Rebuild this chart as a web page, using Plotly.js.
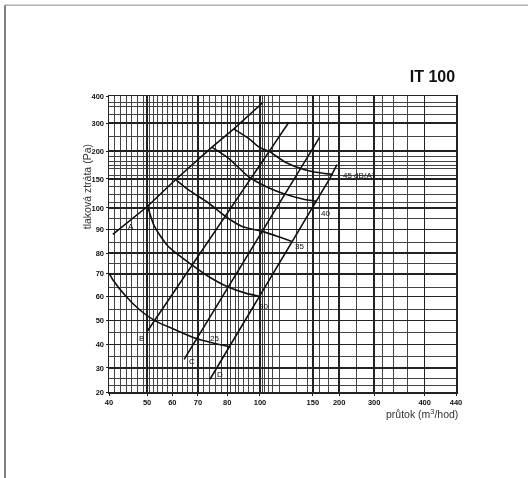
<!DOCTYPE html>
<html>
<head>
<meta charset="utf-8">
<script src="https://cdn.plot.ly/plotly-3.0.1.min.js"></script>
<style>
html,body{margin:0;padding:0;background:#fff;}
#chart{width:528px;height:478px;}
#chart svg{filter:grayscale(1);}
</style>
</head>
<body>
<div id="chart"></div>
<script>
// ---- tick labels (axis values) ----
const xTicks = [40, 50, 60, 70, 80, 100, 150, 200, 300, 400, 440];
const yTicks = [20, 30, 40, 50, 60, 70, 80, 90, 100, 150, 200, 300, 400];

// ---- system curves A-D (flow m3/h, pressure Pa) ----
const A_x = [41, 50.2, 61.3, 74.8, 84.2, 102.2];
const A_y = [88, 103, 149, 214, 280, 374];
const B_x = [50.2, 52.9, 59.3, 70.7, 82.1, 94, 108.9, 127];
const B_y = [45.8, 50, 60, 80, 100, 150, 200, 301];
const C_x = [64.6, 68.1, 73.3, 78.3, 93.2, 115.4, 132.2, 148.4, 162.8];
const C_y = [33.7, 40, 50, 60, 80, 100, 150, 200, 248.8];
const D_x = [74.1, 76.4, 82.2, 90.9, 99.7, 124, 149.4, 181.8, 196];
const D_y = [25.3, 30, 40, 50, 60, 80, 100, 150, 175.5];

// ---- noise curves dB(A) ----
const n25_x = [40, 41, 44.5, 48, 53, 60.9, 69.4, 74.7, 81.5];
const n25_y = [70.3, 67.4, 60, 54.5, 50, 46.3, 42.5, 40.8, 39.1];
const n30_x = [50.2, 52.9, 58.3, 67.5, 73.6, 79.9, 91.1, 100.6];
const n30_y = [103, 91.5, 82.9, 74.4, 68.8, 64.4, 61.5, 60];
const n35_x = [61.3, 66.2, 73.6, 79.3, 89.1, 102.2, 118.2, 130];
const n35_y = [149, 131.6, 108.6, 96.2, 91.5, 89.3, 86.9, 85];
const n40_x = [74.7, 80.8, 93.5, 108.6, 122, 140.4, 157];
const n40_y = [214, 187, 153, 134.5, 125, 115.5, 111.5];
const n45_x = [83.9, 93, 100, 109, 124, 140, 163, 188];
const n45_y = [279, 245, 212, 199, 180, 168, 161, 158];

// ---- curve labels ----
const lineLabels = ['A', 'B', 'C', 'D'];
const lineLabel_x = [45.9, 48.5, 67.8, 77.4];
const lineLabel_y = [91.5, 42.7, 32.7, 27.1];
const noiseLabels = ['25', '30', '35', '40', '45 dB(A)'];
const noiseLabel_x = [75.7, 103, 137.6, 174, 204];
const noiseLabel_y = [42.7, 56, 82.8, 97.5, 156];

// ---- grid values (data units) ----
const xGrid = [41.5, 43, 44.5, 46, 47.5, 49, 51, 52.5, 54, 56, 58, 62, 64, 66, 68, 72, 74, 76, 78,
               82, 85, 87, 90, 93, 96, 102, 104, 108, 112, 118, 135, 145, 163, 180, 250, 317, 339, 365];
const yGrid = [22.5, 25.8, 35, 45, 54.5, 64, 75, 84.4, 95, 109, 123, 137, 157, 168, 175, 181, 190,
               252, 331, 361, 376];

// ---- scale of the original (non-uniform) chart paper: knot offsets in px ----
const xKnotPos = [0, 38.1, 63.3, 88.9, 118.2, 150.9, 203.7, 230.0, 265.0, 315.5, 346.8];
const yKnotPos = [0, 24, 47.3, 71.3, 95.3, 118, 138.7, 162, 183.7, 212.7, 240.5, 268.5, 295.5];

function makeScale(vals, pos) {
  return function (v) {
    let i = 0;
    if (v <= vals[0]) i = 0;
    else if (v >= vals[vals.length - 1]) i = vals.length - 2;
    else { while (v > vals[i + 1]) i++; }
    const t = (v - vals[i]) / (vals[i + 1] - vals[i]);
    return pos[i] + t * (pos[i + 1] - pos[i]);
  };
}
const sx = makeScale(xTicks, xKnotPos);
const sy = makeScale(yTicks, yKnotPos);

const lineStyle = {color: '#111', width: 1.6};
const curveStyle = {color: '#111', width: 1.6, shape: 'spline', smoothing: 0.6};

function tr(xs, ys, name, style) {
  return {type: 'scatter', mode: 'lines', name: name, x: xs.map(sx), y: ys.map(sy),
          line: style, hoverinfo: 'skip', showlegend: false};
}

const data = [
  tr(A_x, A_y, 'A', lineStyle), tr(B_x, B_y, 'B', lineStyle),
  tr(C_x, C_y, 'C', lineStyle), tr(D_x, D_y, 'D', lineStyle),
  tr(n25_x, n25_y, '25 dB(A)', curveStyle), tr(n30_x, n30_y, '30 dB(A)', curveStyle),
  tr(n35_x, n35_y, '35 dB(A)', curveStyle), tr(n40_x, n40_y, '40 dB(A)', curveStyle),
  tr(n45_x, n45_y, '45 dB(A)', curveStyle)
];

const FONT = 'Arial, Liberation Sans, sans-serif';
const annotations = [];
lineLabels.forEach((t, i) => annotations.push({
  x: sx(lineLabel_x[i]), y: sy(lineLabel_y[i]), xref: 'x', yref: 'y', text: t, showarrow: false,
  font: {family: FONT, size: 8, color: '#111'}
}));
noiseLabels.forEach((t, i) => annotations.push({
  x: sx(noiseLabel_x[i]), y: sy(noiseLabel_y[i]), xref: 'x', yref: 'y', text: t, showarrow: false,
  xanchor: i === 4 ? 'left' : 'center',
  font: {family: FONT, size: 8, color: '#111'}
}));
annotations.push({
  xref: 'paper', yref: 'paper', x: -0.084, y: 0.845, textangle: -90, showarrow: false,
  text: 'tlaková ztráta (Pa)', font: {family: FONT, size: 10.5, color: '#333'}
});
annotations.push({
  xref: 'paper', yref: 'paper', x: 1.012, y: -0.071, xanchor: 'right', yanchor: 'middle', showarrow: false,
  text: 'průtok (m<sup>3</sup>/hod)', font: {family: FONT, size: 10.5, color: '#333'}
});

const tickFont = {family: FONT, size: 7.5, color: '#111', weight: 'bold'};

const layout = {
  width: 528, height: 478,
  margin: {l: 109, r: 72, t: 96, b: 86},
  paper_bgcolor: '#fff', plot_bgcolor: '#fff',
  showlegend: false,
  title: {
    text: 'IT 100', xref: 'container', yref: 'container', x: 0.862, xanchor: 'right', y: 0.841, yanchor: 'middle',
    font: {family: FONT, size: 16, color: '#111', weight: 'bold'}
  },
  xaxis: {
    type: 'linear', range: [0, 346.8], fixedrange: true,
    tickmode: 'array', tickvals: xTicks.map(sx), ticktext: xTicks.map(String),
    tickfont: tickFont, ticks: 'outside', ticklen: 2, tickcolor: '#222',
    showgrid: true, gridcolor: '#222', gridwidth: 1.5,
    showline: true, linecolor: '#222', linewidth: 1.5, mirror: true, zeroline: false,
    minor: {tickmode: 'array', tickvals: xGrid.map(sx), showgrid: true, gridcolor: '#444', gridwidth: 1, ticks: ''}
  },
  yaxis: {
    type: 'linear', range: [0, 295.5], fixedrange: true,
    tickmode: 'array', tickvals: yTicks.map(sy), ticktext: yTicks.map(String),
    tickfont: tickFont, ticks: 'outside', ticklen: 2, tickcolor: '#222',
    showgrid: true, gridcolor: '#222', gridwidth: 1.5,
    showline: true, linecolor: '#222', linewidth: 1.5, mirror: true, zeroline: false,
    minor: {tickmode: 'array', tickvals: yGrid.map(sy), showgrid: true, gridcolor: '#444', gridwidth: 1, ticks: ''}
  },
  annotations: annotations,
  shapes: [
    {type: 'line', xref: 'paper', yref: 'paper', x0: -0.2997, x1: -0.2997, y0: 1.307, y1: -0.30,
     line: {color: '#555', width: 1.5}},
    {type: 'line', xref: 'paper', yref: 'paper', x0: -0.2997, x1: 1.21, y0: 1.307, y1: 1.307,
     line: {color: '#888', width: 1}}
  ]
};

Plotly.newPlot('chart', data, layout, {displayModeBar: false, staticPlot: true});
</script>
</body>
</html>
